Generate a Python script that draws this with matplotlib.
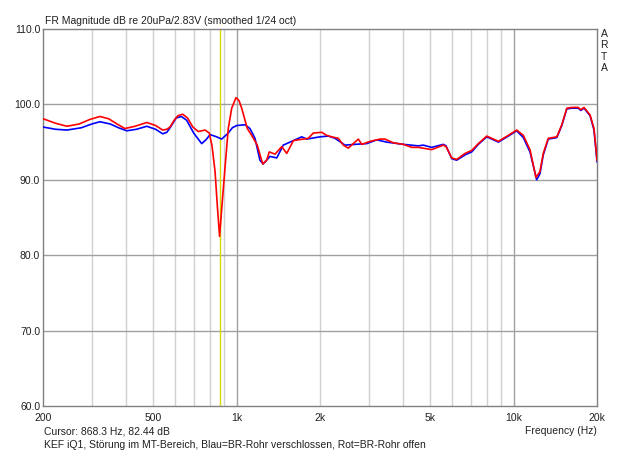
"""ARTA-style frequency response: KEF iQ1, bass-reflex port closed vs. open."""

import matplotlib

matplotlib.use("Agg")
import matplotlib.pyplot as plt
from matplotlib.ticker import FixedLocator, NullFormatter

plt.rcParams["font.family"] = ["Liberation Sans", "DejaVu Sans"]

# Red: BR port open (Hz, dB)
red_freq = [200, 222, 244, 270, 295, 321, 345, 370, 395, 430, 474, 510, 541, 560,
            575, 595, 614, 639, 665, 695, 727, 769, 797, 815, 836, 852, 868,
            885, 908, 933, 960, 995, 1020, 1043, 1093, 1133, 1187, 1242, 1284,
            1312, 1376, 1455, 1517, 1603, 1741, 1814, 1892, 2028, 2114, 2204,
            2330, 2428, 2530, 2638, 2750, 2830, 3034, 3294, 3434, 3682, 4000,
            4286, 4530, 5060, 5574, 5702, 5978, 6232, 6676, 7060, 7458, 8000,
            8812, 9572, 10258, 10840, 11456, 12042, 12446, 12794, 13336, 14322,
            14928, 15560, 16220, 17112, 17468, 17956, 18880, 19504, 19820, 20000]
red_db = [98.1, 97.5, 97.1, 97.4, 98.0, 98.4, 98.1, 97.4, 96.8, 97.1, 97.6, 97.2,
          96.6, 96.7, 97.0, 97.9, 98.5, 98.7, 98.2, 97.0, 96.4, 96.6, 96.2, 94.5,
          91.1, 86.5, 82.5, 86.5, 91.6, 96.8, 99.5, 100.9, 100.5, 99.5, 96.8,
          95.9, 94.6, 92.1, 92.6, 93.7, 93.4, 94.4, 93.5, 95.2, 95.4, 95.5, 96.2,
          96.3, 95.9, 95.7, 95.5, 94.6, 94.2, 94.8, 95.4, 94.7, 95.1, 95.4, 95.4,
          94.9, 94.7, 94.3, 94.3, 94.0, 94.6, 94.4, 92.9, 92.7, 93.5, 93.9, 94.8,
          95.8, 95.1, 95.9, 96.6, 95.9, 94.0, 90.3, 91.1, 93.5, 95.5, 95.7, 97.3,
          99.5, 99.6, 99.6, 99.3, 99.6, 98.6, 96.8, 94.2, 92.6]

# Blue: BR port closed (Hz, dB)
blue_freq = [200, 222, 244, 275, 300, 321, 350, 375, 401, 435, 474, 510, 541, 560,
             575, 605, 632, 660, 700, 748, 775, 802, 847, 883, 933, 965, 1001,
             1072, 1117, 1165, 1214, 1247, 1320, 1396, 1474, 1603, 1718, 1791,
             2000, 2144, 2266, 2462, 2676, 2950, 3206, 3482, 4000, 4530, 4722,
             5060, 5574, 5702, 5978, 6232, 6676, 7060, 7458, 8000, 8812, 9572,
             10258, 10840, 11456, 12114, 12446, 12794, 13336, 14322, 14928, 15560,
             16220, 17112, 17468, 17956, 18880, 19504, 19820, 20000]
blue_db = [97.0, 96.7, 96.6, 96.9, 97.4, 97.7, 97.4, 96.9, 96.5, 96.7, 97.1, 96.7,
           96.1, 96.3, 96.9, 98.2, 98.4, 97.9, 96.2, 94.8, 95.3, 96.0, 95.7, 95.4,
           96.2, 96.9, 97.2, 97.3, 96.8, 95.5, 92.6, 92.1, 93.1, 92.9, 94.6, 95.2,
           95.7, 95.4, 95.7, 95.8, 95.5, 94.6, 94.7, 94.8, 95.3, 95.0, 94.7, 94.5,
           94.6, 94.3, 94.7, 94.5, 92.8, 92.6, 93.3, 93.7, 94.7, 95.7, 95.0, 95.8,
           96.5, 95.6, 93.7, 90.0, 90.8, 93.3, 95.4, 95.6, 97.2, 99.4, 99.5, 99.5,
           99.2, 99.5, 98.5, 96.6, 94.0, 92.4]

cursor_hz = 868.3
cursor_db = 82.44

x_ticks = [200, 500, 1000, 2000, 5000, 10000, 20000]
x_tick_labels = ["200", "500", "1k", "2k", "5k", "10k", "20k"]
y_ticks = [60, 70, 80, 90, 100, 110]

LIGHT = "#d0d0d0"
DARK = "#a0a0a0"
FRAME = "#808080"
TXT = "#202020"
FS = 7.5

fig = plt.figure(figsize=(6.4, 4.55), dpi=100)
ax = fig.add_axes([43 / 640, 49 / 455, 554 / 640, 377 / 455])
ax.set_xscale("log")
ax.set_xlim(200, 20000)
ax.set_ylim(60, 110)

minor = [f * d for d in (100, 1000) for f in range(3, 10)
         if 200 < f * d < 20000]
for f in minor + [2000]:
    ax.axvline(f, color=LIGHT, lw=1.0, zorder=1)
for f in (1000, 10000):
    ax.axvline(f, color=DARK, lw=1.0, zorder=1)
for y in (70, 80, 90, 100):
    ax.axhline(y, color=DARK, lw=1.0, zorder=1)
ax.axvline(cursor_hz, color="#d8d800", lw=1.0, zorder=2)

ax.plot(blue_freq, blue_db, color="#0000ff", lw=1.2, zorder=3)
ax.plot(red_freq, red_db, color="#ff0000", lw=1.2, zorder=4)

ax.xaxis.set_major_locator(FixedLocator(x_ticks))
ax.xaxis.set_minor_locator(FixedLocator([]))
ax.xaxis.set_minor_formatter(NullFormatter())
ax.set_xticklabels(x_tick_labels)
ax.set_yticks(y_ticks)
ax.set_yticklabels([f"{v:.1f}" for v in y_ticks])
ax.tick_params(length=0, labelsize=FS, colors=TXT, pad=2)
ax.tick_params(axis="x", pad=5)
for s in ax.spines.values():
    s.set_color(FRAME)
    s.set_linewidth(1.0)

fig.text(45 / 640, 1 - 21.5 / 455, "FR Magnitude dB re 20uPa/2.83V (smoothed 1/24 oct)",
         fontsize=FS, color=TXT, ha="left", va="center")
fig.text(604 / 640, 1 - 51 / 455, "A\nR\nT\nA", fontsize=FS, color=TXT,
         ha="center", va="center", linespacing=1.15)
fig.text(44 / 640, 1 - 431 / 455, f"Cursor: {cursor_hz} Hz, {cursor_db} dB",
         fontsize=FS, color=TXT, ha="left", va="center")
fig.text(597 / 640, 1 - 431 / 455, "Frequency (Hz)", fontsize=FS, color=TXT,
         ha="right", va="center")
fig.text(44 / 640, 1 - 445 / 455,
         "KEF iQ1, Störung im MT-Bereich, Blau=BR-Rohr verschlossen, Rot=BR-Rohr offen",
         fontsize=FS, color=TXT, ha="left", va="center")

fig.savefig("out.png", dpi=100)
